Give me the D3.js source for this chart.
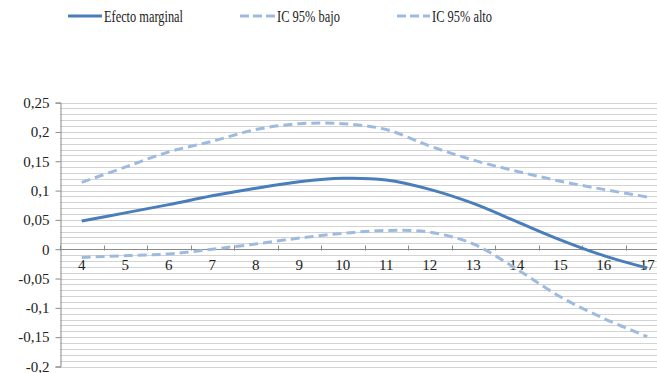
<!DOCTYPE html>
<html>
<head>
<meta charset="utf-8">
<script src="https://cdn.jsdelivr.net/npm/d3@7"></script>
<style>
  html, body { margin: 0; padding: 0; background: #fff; }
  svg { display: block; font-family: "Liberation Serif", "Times New Roman", serif; }
</style>
</head>
<body>
<svg id="chart" width="657" height="373"></svg>
<script>
// Edad (categorías del eje X)
const categories = [4, 5, 6, 7, 8, 9, 10, 11, 12, 13, 14, 15, 16, 17];
// Efecto marginal estimado y su intervalo de confianza al 95%
const efectoMarginal = [0.048, 0.062, 0.076, 0.091, 0.104, 0.115, 0.121, 0.118, 0.102, 0.078, 0.047, 0.016, -0.011, -0.032];
const icBajo = [-0.014, -0.011, -0.008, 0.000, 0.009, 0.019, 0.027, 0.032, 0.029, 0.009, -0.034, -0.081, -0.118, -0.149];
const icAlto = [0.114, 0.140, 0.166, 0.184, 0.204, 0.214, 0.214, 0.204, 0.176, 0.152, 0.133, 0.116, 0.102, 0.089];
const yMajorTicks = [0.25, 0.2, 0.15, 0.1, 0.05, 0, -0.05, -0.1, -0.15, -0.2];
const legendLabels = ["Efecto marginal", "IC 95% bajo", "IC 95% alto"];

const colSolid = "#4a7ebb";
const colDash = "#9dbbe0";

const svg = d3.select("#chart");
const plotLeft = 60, plotRight = 669, plotTop = 102.6, plotBottom = 366.5;

const x = d3.scaleBand().domain(categories).range([plotLeft, plotRight]);
const y = d3.scaleLinear().domain([-0.2, 0.25]).range([plotBottom, plotTop]);
const fmt = v => (v === 0 ? "0" : String(+v.toFixed(2)).replace(".", ","));

// Líneas de cuadrícula cada 0,01
const minor = d3.range(-20, 26).map(i => i / 100);
svg.append("g").selectAll("line").data(minor).join("line")
  .attr("x1", plotLeft).attr("x2", plotRight)
  .attr("y1", d => Math.round(y(d)) + 0.5).attr("y2", d => Math.round(y(d)) + 0.5)
  .attr("stroke", "#d3d3d3").attr("stroke-width", 1);

// Eje Y
const yAxis = svg.append("g").attr("transform", `translate(${plotLeft + 0.5},0)`)
  .call(d3.axisLeft(y).tickValues(yMajorTicks).tickSize(5).tickPadding(6).tickFormat(fmt));
yAxis.select(".domain").attr("stroke", "#8a8a8a");
yAxis.selectAll(".tick line").attr("stroke", "#8a8a8a");
yAxis.selectAll(".tick text").attr("font-size", 15).attr("fill", "#222")
  .attr("font-family", "Liberation Serif, serif");

// Eje X cruzando en 0
const y0 = Math.round(y(0)) + 0.5;
const xAxis = svg.append("g").attr("transform", `translate(0,${y0})`);
xAxis.append("line").attr("x1", plotLeft).attr("x2", plotRight).attr("stroke", "#8a8a8a");
const bounds = d3.range(0, categories.length + 1).map(i => plotLeft + i * x.step());
xAxis.selectAll("line.tk").data(bounds).join("line").attr("class", "tk")
  .attr("x1", d => Math.round(d) + 0.5).attr("x2", d => Math.round(d) + 0.5)
  .attr("y1", -4).attr("y2", 1).attr("stroke", "#8a8a8a");
xAxis.selectAll("text").data(categories).join("text")
  .attr("x", d => x(d) + x.bandwidth() / 2).attr("y", 20)
  .attr("text-anchor", "middle").attr("font-size", 15).attr("fill", "#222")
  .text(d => d);

// Curvas
const line = d3.line()
  .x((d, i) => x(categories[i]) + x.bandwidth() / 2)
  .y(d => y(d))
  .curve(d3.curveCatmullRom.alpha(0.5));

const series = [
  { values: efectoMarginal, color: colSolid, dash: null },
  { values: icBajo, color: colDash, dash: "9,5" },
  { values: icAlto, color: colDash, dash: "9,5" }
];
svg.append("g").selectAll("path").data(series).join("path")
  .attr("d", d => line(d.values))
  .attr("fill", "none").attr("stroke", d => d.color).attr("stroke-width", 3)
  .attr("stroke-dasharray", d => d.dash);

// Leyenda
const legendItems = [
  { x1: 68, x2: 102, tx: 104, w: 79, color: colSolid, dash: null },
  { x1: 240, x2: 275, tx: 277, w: 63, color: colDash, dash: "9,4" },
  { x1: 397, x2: 430, tx: 432, w: 60, color: colDash, dash: "9,4" }
];
const lg = svg.append("g");
legendItems.forEach((it, i) => {
  lg.append("line").attr("x1", it.x1).attr("x2", it.x2).attr("y1", 16).attr("y2", 16)
    .attr("stroke", it.color).attr("stroke-width", 3).attr("stroke-dasharray", it.dash);
  lg.append("text").attr("x", it.tx).attr("y", 22).attr("font-size", 17)
    .attr("textLength", it.w).attr("lengthAdjust", "spacingAndGlyphs")
    .attr("fill", "#222").text(legendLabels[i]);
});
</script>
</body>
</html>
